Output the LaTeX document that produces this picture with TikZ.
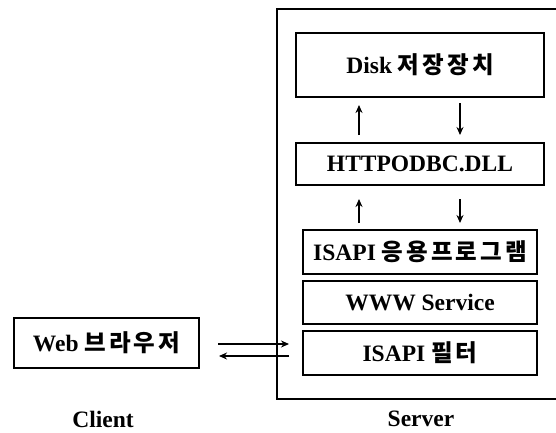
\documentclass[tikz,border=0pt]{standalone}
\usepackage{fontspec}
\setmainfont{Liberation Serif}
\newfontfamily\kr[LetterSpace=13]{Noto Sans CJK KR Bold}
\usetikzlibrary{arrows.meta}
\begin{document}
\begin{tikzpicture}[x=1pt,y=-1pt,
  box/.style={draw,line width=1.6pt,inner sep=0pt},
  lbl/.style={font=\fontsize{23.5}{26}\selectfont\bfseries},
  arr/.style={line width=1.5pt,-{Stealth[length=8pt,width=7pt]}}]
\useasboundingbox (0,0) rectangle (556,432);
% outer server box
\draw[line width=1.6pt] (277,9) rectangle (560,399);
% inner boxes
\node[box,minimum width=248pt,minimum height=64pt,lbl] (disk) at (420,65) {Disk {\kr 저장장치}};
\node[box,minimum width=248pt,minimum height=42pt,lbl] (dll) at (420,164) {HTTPODBC.DLL};
\node[box,minimum width=234pt,minimum height=44pt,lbl] (app) at (420,252) {ISAPI {\kr 응용프로그램}};
\node[box,minimum width=234pt,minimum height=43pt,lbl] (www) at (420,302.5) {WWW Service};
\node[box,minimum width=234pt,minimum height=44pt,lbl] (filt) at (420,353) {ISAPI {\kr 필터}};
\node[box,minimum width=185pt,minimum height=50pt,lbl] (web) at (106.5,343) {Web {\kr 브라우저}};
\node[lbl] (client) at (103,419) {Client};
\node[lbl] (server) at (421,419) {Server};
% vertical arrows
\coordinate (u1s) at (359,135); \coordinate (u1e) at (359,105);
\coordinate (d1s) at (460,103); \coordinate (d1e) at (460,135);
\coordinate (u2s) at (359,223); \coordinate (u2e) at (359,199);
\coordinate (d2s) at (460,199); \coordinate (d2e) at (460,223);
\draw[arr] (u1s) -- (u1e);
\draw[arr] (d1s) -- (d1e);
\draw[arr] (u2s) -- (u2e);
\draw[arr] (d2s) -- (d2e);
% horizontal arrows
\coordinate (h1s) at (218,344); \coordinate (h1e) at (289,344);
\coordinate (h2s) at (289,356); \coordinate (h2e) at (219,356);
\draw[arr] (h1s) -- (h1e);
\draw[arr] (h2s) -- (h2e);
\end{tikzpicture}
\end{document}
